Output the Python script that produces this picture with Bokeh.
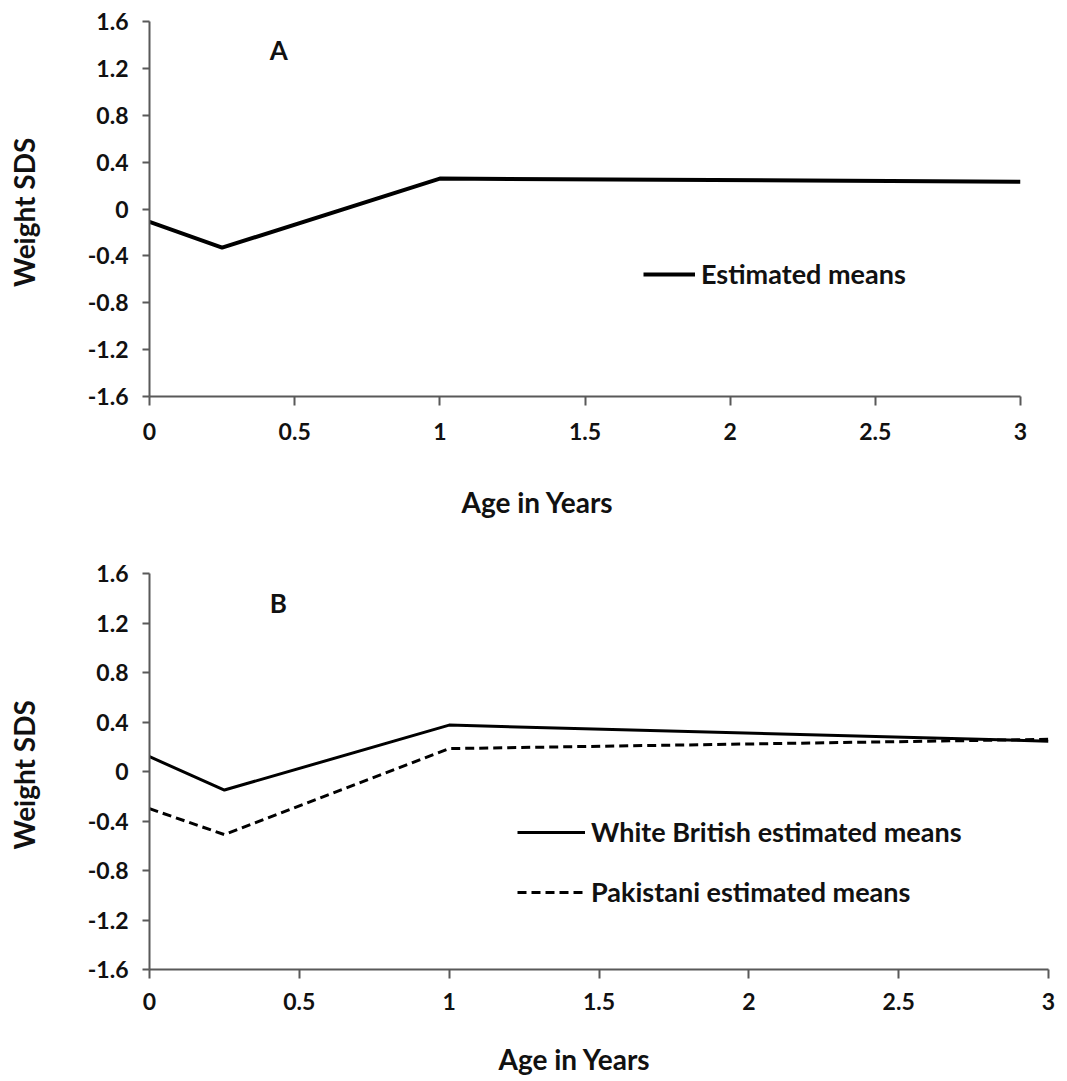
from bokeh.plotting import figure
from bokeh.layouts import column
from bokeh.models import Range1d, FixedTicker, NumeralTickFormatter, Legend, LegendItem, Label, Title
from bokeh.embed import file_html
from bokeh.resources import INLINE

# Weight SDS estimated means by age
age_years = [0, 0.25, 1, 3]
all_means = [-0.11, -0.33, 0.26, 0.232]
white_british_means = [0.12, -0.15, 0.375, 0.245]
pakistani_means = [-0.30, -0.51, 0.185, 0.26]

x_ticks = [0, 0.5, 1, 1.5, 2, 2.5, 3]
y_ticks = [-1.6, -1.2, -0.8, -0.4, 0, 0.4, 0.8, 1.2, 1.6]

FONT = "Lato"
INK = "#111111"
AXIS_COLOR = "#595959"


def make_panel(frame_w, frame_h, top, bottom, right, tick_standoff, x_gap):
    p = figure(frame_width=frame_w, frame_height=frame_h,
               output_backend="svg", toolbar_location=None,
               x_range=Range1d(0, 3), y_range=Range1d(-1.6, 1.6),
               min_border_left=149, min_border_right=right,
               min_border_top=top, min_border_bottom=bottom)
    p.outline_line_color = None
    p.grid.visible = False
    for ax in (p.xaxis[0], p.yaxis[0]):
        ax.axis_line_color = AXIS_COLOR
        ax.axis_line_width = 2
        ax.major_tick_line_color = AXIS_COLOR
        ax.major_tick_line_width = 2
        ax.major_tick_in = 0
        ax.minor_tick_line_color = None
        ax.major_label_text_font = FONT
        ax.major_label_text_font_style = "bold"
        ax.major_label_text_font_size = "23px"
        ax.major_label_text_color = INK
        ax.formatter = NumeralTickFormatter(format="0.[0]")
    xa, ya = p.xaxis[0], p.yaxis[0]
    xa.ticker = FixedTicker(ticks=x_ticks)
    ya.ticker = FixedTicker(ticks=y_ticks)
    xa.major_tick_out = 9
    ya.major_tick_out = 7
    xa.major_label_standoff = tick_standoff
    ya.major_label_standoff = 14
    # blank spacer label: leaves room between the tick labels and the x title
    xa.axis_label = " "
    xa.axis_label_text_font_size = "1px"
    xa.axis_label_standoff = x_gap
    ya.axis_label = "Weight  SDS"
    ya.axis_label_text_font = FONT
    ya.axis_label_text_font_style = "bold"
    ya.axis_label_text_font_size = "28px"
    ya.axis_label_text_color = INK
    ya.axis_label_standoff = 44
    return p


def add_x_title(p, x_offset):
    p.add_layout(Title(text="Age in Years", align="left", offset=x_offset,
                       standoff=0, text_font=FONT, text_font_style="bold",
                       text_font_size="28px", text_color=INK), "below")


def add_panel_letter(p, x, y, letter):
    p.add_layout(Label(x=x, y=y, text=letter, text_font=FONT, text_font_style="bold",
                       text_font_size="26px", text_color=INK,
                       text_align="center", text_baseline="middle"))


def style_legend(legend):
    legend.background_fill_alpha = 0
    legend.border_line_color = None
    legend.padding = 0
    legend.margin = 0
    legend.label_text_font = FONT
    legend.label_text_font_style = "bold"
    legend.label_text_font_size = "27px"
    legend.label_text_color = INK
    legend.label_standoff = 6
    legend.glyph_height = 28
    legend.label_height = 28


# Panel A
pa = make_panel(871, 375, 21, 144, 47, 17, 36)
ra = pa.line(age_years, all_means, line_color="black", line_width=4)
leg_a = Legend(items=[LegendItem(label="Estimated means", renderers=[ra])],
               location=(494, 106), glyph_width=52)
style_legend(leg_a)
pa.add_layout(leg_a)
add_panel_letter(pa, 0.445, 1.36, "A")
add_x_title(pa, 312)

# Panel B
pb = make_panel(899, 396, 33, 112, 19, 14, 23)
rw = pb.line(age_years, white_british_means, line_color="black", line_width=3)
rp = pb.line(age_years, pakistani_means, line_color="black", line_width=3, line_dash="9 5")
leg_b = Legend(items=[LegendItem(label="White British estimated means", renderers=[rw]),
                      LegendItem(label="Pakistani estimated means", renderers=[rp])],
               location=(368, 61), glyph_width=68, spacing=27)
style_legend(leg_b)
pb.add_layout(leg_b)
add_panel_letter(pb, 0.43, 1.36, "B")
add_x_title(pb, 349)

layout = column(pa, pb, spacing=0)
open("out.html", "w").write(file_html(layout, INLINE))
